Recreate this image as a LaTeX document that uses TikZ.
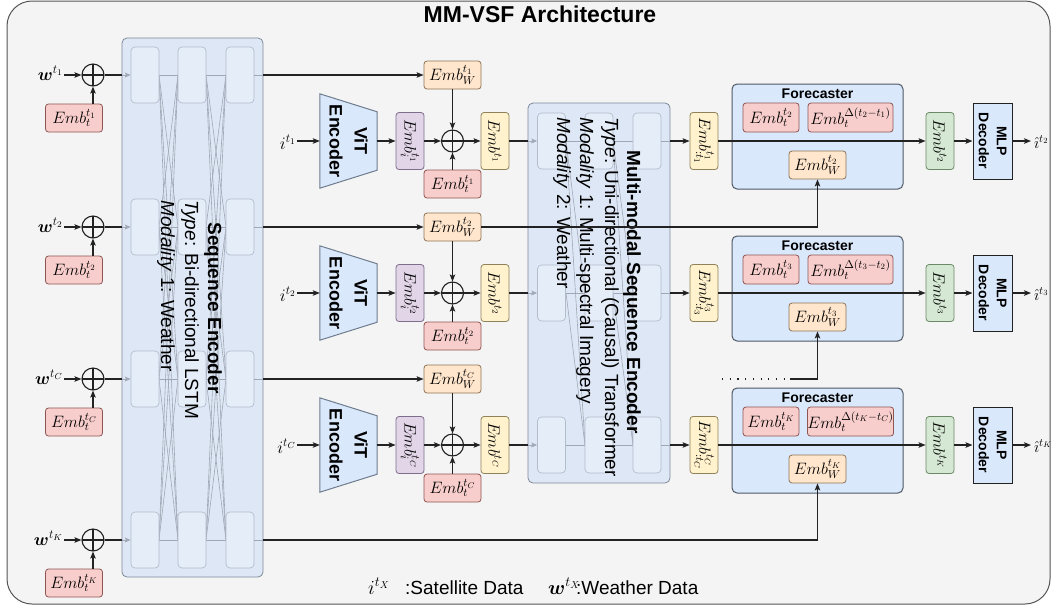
\RequirePackage{fix-cm}
\documentclass[tikz,border=0pt]{standalone}
\usepackage{bm}
\usepackage{fontspec}
\setmainfont{Liberation Sans}
\usetikzlibrary{arrows.meta,calc}
\definecolor{bgc}{HTML}{F4F4F4}
\definecolor{frm}{HTML}{555555}
\definecolor{inkc}{HTML}{222222}
\definecolor{seqf}{HTML}{DEE7F5}
\definecolor{seqd}{HTML}{7D8898}
\definecolor{cellf}{HTML}{E5EDF8}
\definecolor{celld}{HTML}{B2BCCB}
\definecolor{glc}{HTML}{A0A8B5}
\definecolor{redf}{HTML}{F8CECC}
\definecolor{redd}{HTML}{8F5553}
\definecolor{orf}{HTML}{FFE6CC}
\definecolor{ord}{HTML}{8F7556}
\definecolor{puf}{HTML}{E1D5E7}
\definecolor{pud}{HTML}{7E6D8C}
\definecolor{yef}{HTML}{FFF2CC}
\definecolor{yed}{HTML}{8F8258}
\definecolor{grf}{HTML}{D5E8D4}
\definecolor{grd}{HTML}{6C8A68}
\definecolor{blf}{HTML}{DAE8FC}
\definecolor{bld}{HTML}{4F5866}
\definecolor{vitd}{HTML}{6E7C8E}
\begin{document}
\begin{tikzpicture}[x=1pt, y=-1pt,
  ink/.style={draw=inkc, line width=1.1pt},
  arr/.style={ink, -{Stealth[length=7pt,width=5.5pt,inset=1.5pt]}},
  garr/.style={draw=glc, line width=0.8pt, -{Stealth[length=6pt,width=5pt,inset=1.5pt]}},
  gl/.style={draw=glc, line width=0.6pt},
  emb/.style={rounded corners=3pt, line width=0.8pt, inner sep=0pt, font=\fontsize{16.5}{18}\selectfont},
  hbox/.style={emb, minimum width=57, minimum height=28},
  vbox/.style={emb, rotate=-90, minimum width=57, minimum height=28},
  redb/.style={fill=redf, draw=redd},
  orb/.style={fill=orf, draw=ord},
  pub/.style={fill=puf, draw=pud},
  yeb/.style={fill=yef, draw=yed},
  grb/.style={fill=grf, draw=grd},
  oplus/.style={circle, draw=inkc, line width=1.1pt, minimum size=22, inner sep=0,
    path picture={\draw[inkc, line width=1.1pt]
      (path picture bounding box.north) -- (path picture bounding box.south)
      (path picture bounding box.west) -- (path picture bounding box.east);}},
  enc/.style={draw=seqd, fill=seqf, rounded corners=5pt, line width=0.8pt, inner sep=0},
  cellbox/.style={draw=celld, fill=cellf, rounded corners=4pt, line width=0.7pt,
    minimum width=28, minimum height=56, inner sep=0},
  rot/.style={rotate=-90, inner sep=0pt},
  bigt/.style={font=\fontsize{19}{22}\selectfont},
  bigb/.style={font=\bfseries\fontsize{19}{22}\selectfont},
  lbl/.style={inner sep=1pt, font=\fontsize{17.5}{20}\selectfont},
  legt/.style={inner sep=0pt, anchor=base west, font=\fontsize{19}{21}\selectfont},
  legm/.style={inner sep=0pt, anchor=base west, font=\fontsize{20}{22}\selectfont},
  fcbox/.style={draw=bld, fill=blf, rounded corners=5pt, line width=1pt,
    minimum width=171, minimum height=105, inner sep=0},
  mlpbox/.style={draw=inkc, fill=blf, line width=1pt, rotate=-90, minimum width=76,
    minimum height=39, inner sep=0, align=center, font=\bfseries\fontsize{14}{18}\selectfont},
]
\useasboundingbox (0,0) rectangle (1057,611);
% outer frame and title
\draw[fill=bgc, draw=frm, line width=1pt, rounded corners=25pt] (7,1) rectangle (1050,604);
\node[font=\bfseries\fontsize{23}{26}\selectfont] (title) at (540,14) {MM-VSF Architecture};

% ---------------- weather sequence encoder (bi-directional LSTM)
\node[enc, minimum width=141, minimum height=539] (seq) at (192.5,307.5) {};
\foreach \r/\y in {1/75,2/227,3/379,4/540}
  \foreach \c/\x in {1/145,2/192,3/240}
    \coordinate (p\c\r) at (\x,\y);
\foreach \i/\yi in {1/75,2/227,3/379,4/540}
  \foreach \j/\yj in {1/75,2/227,3/379,4/540} {
    \draw[gl] (159,\yi) -- (178,\yj);
    \draw[gl] (206,\yi) -- (226,\yj);
  }
\foreach \r/\y in {1/75,2/227,3/379,4/540}
  \foreach \c/\x in {1/145,2/192,3/240}
    \node[cellbox] (s\c\r) at (p\c\r) {};
\node[rot, bigb] (seqt) at (213,308) {Sequence Encoder};
\node[rot, bigt, anchor=west] (seqa) at (190,200) {\textit{Type}: Bi-directional LSTM};
\node[rot, bigt, anchor=west] (seqb) at (166,200) {\textit{Modality} 1: Weather};

% ---------------- multi-modal sequence encoder (causal transformer)
\node[enc, minimum width=142, minimum height=380] (mm) at (599,293) {};
\foreach \i/\yi in {1/141,2/293,3/445}
  \foreach \j/\yj in {1/141,2/293,3/445} {
    \ifnum\j<\i\relax\else
      \draw[gl] (566,\yi) -- (585,\yj);
      \draw[gl] (613,\yi) -- (633,\yj);
    \fi
  }
\foreach \r/\y in {1/141,2/293,3/445}
  \foreach \c/\x in {1/551.5,2/599,3/647}
    \node[cellbox] (m\c\r) at (\x,\y) {};
\node[rot, bigb] (mmt) at (632,292) {Multi-modal Sequence Encoder};
\node[rot, bigt, anchor=west] (mma) at (610,117) {\textit{Type}: Uni-directional (Causal) Transformer};
\node[rot, bigt, anchor=west] (mmb) at (585,117) {\textit{Modality} 1: Multi-spectral Imagery};
\node[rot, bigt, anchor=west] (mmc) at (562,117) {\textit{Modality} 2: Weather};

% ---------------- weather inputs with time embeddings
\foreach \r/\y/\s in {1/75/1,2/227/2,3/379/C,4/540/K} {
  \node[oplus] (wo\r) at (93,\y) {};
  \node[lbl, anchor=base east] (wl\r) at (64,\y+5) {$\bm{w}^{t_{\s}}$};
  \node[hbox, redb] (wt\r) at (74,\y+43) {$Emb_t^{t_{\s}}$};
  \draw[arr] (wl\r.east |- wo\r) -- (wo\r);
  \draw[arr] (wt\r.north -| wo\r) -- (wo\r);
  \draw[ink] (wo\r) -- (wo\r -| seq.west);
  \draw[garr] (wo\r -| seq.west) -- (s1\r.west);
  \draw[gl] (s3\r.east) -- (s3\r -| seq.east);
}

% ---------------- satellite image branches
\foreach \r/\y/\s in {1/141/1,2/293/2,3/445/C} {
  \node[rot, minimum width=94, minimum height=57] (vit\r) at (348.5,\y) {};
  \draw[fill=blf, draw=vitd, line width=1pt]
    (vit\r.south west) -- ($(vit\r.north west)+(0,18)$) --
    ($(vit\r.north east)+(0,-18)$) -- (vit\r.south east) -- cycle;
  \node[rot, align=center, font=\bfseries\fontsize{18}{25}\selectfont] (vitx\r) at (vit\r) {ViT\\Encoder};
  \node[lbl, anchor=base east] (il\r) at (297,\y+8) {$i^{t_{\s}}$};
  \node[vbox, pub] (pi\r) at (410,\y) {$Emb_i^{t_{\s}}$};
  \node[oplus] (io\r) at (452.5,\y) {};
  \node[hbox, orb] (ew\r) at (452.5,\y-66) {$Emb_W^{t_{\s}}$};
  \node[hbox, redb] (et\r) at (452.5,\y+43) {$Emb_t^{t_{\s}}$};
  \node[vbox, yeb] (ye\r) at (495,\y) {$Emb^{t_{\s}}$};
  \draw[arr] (il\r.east |- vit\r) -- (vit\r);
  \draw[arr] (vit\r) -- (pi\r);
  \draw[arr] (pi\r) -- (io\r);
  \draw[arr] (ew\r) -- (io\r);
  \draw[arr] (et\r) -- (io\r);
  \draw[arr] (io\r) -- (ye\r);
  \draw[arr] (s3\r -| seq.east) -- (ew\r);
  \draw[ink] (ye\r) -- (ye\r -| mm.west);
  \draw[garr] (ye\r -| mm.west) -- (m1\r.west);
  \draw[gl] (m3\r.east) -- (m3\r -| mm.east);
}

% ---------------- forecasters and decoders
\foreach \r/\y/\s/\n/\p in {1/141/1/2/1,2/293/3/3/2,3/445/C/K/C} {
  \node[vbox, yeb] (yo\r) at (704,\y) {$Emb_{:t_{\s}}^{t_{\s}}$};
  \node[fcbox] (fc\r) at (817.5,\y-4.5) {};
  \node[font=\bfseries\fontsize{14}{16}\selectfont] (fl\r) at (817.5,\y-47) {Forecaster};
  \node[emb, redb, minimum width=56, minimum height=29] (fa\r) at (771,\y-23.5) {$Emb_t^{t_{\n}}$};
  \node[emb, redb, minimum width=85, minimum height=29] (fb\r) at (850.5,\y-23.5) {$Emb_t^{\Delta(t_{\n}-t_{\p})}$};
  \node[hbox, orb] (fw\r) at (817.5,\y+24) {$Emb_W^{t_{\n}}$};
  \node[vbox, grb] (gr\r) at (940,\y) {$Emb^{t_{\n}}$};
  \node[mlpbox] (mlp\r) at (992.5,\y) {MLP\\Decoder};
  \node[inner sep=0pt, font=\fontsize{16}{18}\selectfont, anchor=base west] (ho\r) at (1034,\y+7) {$\hat{\imath}^{t_{\n}}$};
  \draw[arr] (m3\r -| mm.east) -- (yo\r);
  \draw[arr] (yo\r) -- (gr\r);
  \draw[arr] (gr\r) -- (mlp\r);
  \draw[arr] (mlp\r) -- ([xshift=-3pt]ho\r.west |- mlp\r);
}

% weather embeddings routed to the forecasters
\draw[arr] (ew2) -- (ew2 -| fw1) -- (fw1);
\coordinate (dA) at (722,379);
\coordinate (dB) at (790,379);
\draw[ink, dash pattern=on 1.2pt off 6.5pt] (dA) -- (dB);
\draw[arr] (dB) -- (dB -| fw2) -- (fw2);
\draw[arr] (s34 -| seq.east) -- (s34 -| fw3) -- (fw3);

% legend
\node[legm] (lgi) at (368,594) {$i^{t_X}$};
\node[legt] (lgs) at (405,594) {:Satellite Data};
\node[legm] (lgw) at (548,594) {$\bm{w}^{t_X}$};
\node[legt] (lgt) at (576,594) {:Weather Data};
\end{tikzpicture}
\end{document}
